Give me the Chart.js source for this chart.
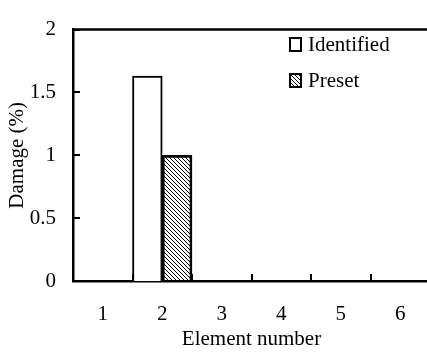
<!DOCTYPE html>
<html>
<head>
<meta charset="utf-8">
<script src="https://cdn.jsdelivr.net/npm/chart.js@4/dist/chart.umd.min.js"></script>
<style>
  html,body{margin:0;padding:0;background:#fff;overflow:hidden}
  body{width:427px;height:354px}
  #wrap{width:440px;height:354px}
</style>
</head>
<body>
<div id="wrap"><canvas id="c" width="440" height="354"></canvas></div>
<script>
// element numbers on the x axis
const elements = ['1','2','3','4','5','6']
// damage values (%) per element
const identified = [0, 1.63, 0, 0, 0, 0]
const preset = [0, 1.0, 0, 0, 0, 0]
const yTicks = [0, 0.5, 1, 1.5, 2]

const FONT = 'Liberation Serif'
const FS = 21

// diagonal hatch for the preset bars
function hatch(){
  const s = 4
  const p = document.createElement('canvas'); p.width = s; p.height = s
  const g = p.getContext('2d')
  g.strokeStyle = '#000'; g.lineWidth = 1
  g.beginPath()
  g.moveTo(-1,-1); g.lineTo(s+1,s+1)
  g.moveTo(-1,s-1); g.lineTo(1,s+1)
  g.moveTo(s-1,-1); g.lineTo(s+1,1)
  g.stroke()
  return document.getElementById('c').getContext('2d').createPattern(p,'repeat')
}

// inward tick marks + top frame line
const frame = {
  id:'frame',
  afterDatasetsDraw(chart){
    const {ctx, chartArea:a, scales:{x,y}} = chart
    ctx.save()
    ctx.strokeStyle = '#000'; ctx.lineWidth = 2.5
    ctx.beginPath(); ctx.moveTo(a.left, a.top); ctx.lineTo(a.right, a.top); ctx.stroke()
    ctx.lineWidth = 2
    ctx.beginPath()
    yTicks.forEach(v=>{ const py = Math.round(y.getPixelForValue(v)); ctx.moveTo(a.left, py); ctx.lineTo(a.left+7, py) })
    const half = (x.getPixelForValue(1) - x.getPixelForValue(0))/2
    for(let i=0;i<=elements.length;i++){
      const px = Math.round(x.getPixelForValue(i) - half)
      ctx.moveTo(px, a.bottom); ctx.lineTo(px, a.bottom-7)
    }
    ctx.stroke()
    ctx.restore()
  }
}

// legend drawn inside the plot, top right
const boxLegend = {
  id:'boxLegend',
  afterDraw(chart){
    const ctx = chart.ctx
    const rows = [44, 80]
    ctx.save()
    ctx.font = FS + 'px "' + FONT + '"'
    ctx.textBaseline = 'middle'
    chart.data.datasets.forEach((ds,i)=>{
      const cy = rows[i]
      ctx.fillStyle = ds.backgroundColor
      ctx.fillRect(290, cy-6, 11, 13)
      ctx.strokeStyle = '#000'; ctx.lineWidth = 2
      ctx.strokeRect(290, cy-6, 11, 13)
      ctx.fillStyle = '#000'
      ctx.fillText(ds.label, 308, cy+1)
    })
    ctx.restore()
  }
}

new Chart(document.getElementById('c'), {
  type:'bar',
  data:{
    labels: elements,
    datasets:[
      {label:'Identified', data: identified, backgroundColor:'#fff', borderColor:'#000', borderWidth:2},
      {label:'Preset', data: preset, backgroundColor: hatch(), borderColor:'#000', borderWidth:2}
    ]
  },
  options:{
    responsive:false,
    animation:false,
    layout:{padding:{top:16, right:10, left:0, bottom:0}},
    datasets:{bar:{categoryPercentage:1, barPercentage:1}},
    plugins:{legend:{display:false}, tooltip:{enabled:false}},
    scales:{
      x:{
        afterFit(s){ s.height = 73 },
        grid:{display:false, drawTicks:false},
        border:{display:true, color:'#000', width:2.5},
        ticks:{color:'#000', padding:21, font:{family:FONT, size:FS}},
        title:{display:true, text:'Element number', color:'#000', font:{family:FONT, size:FS}, padding:{top:0, bottom:2}}
      },
      y:{
        min:0, max:2,
        afterFit(s){ s.width = 73 },
        afterBuildTicks(s){ s.ticks = yTicks.map(v=>({value:v})) },
        grid:{display:false, drawTicks:false},
        border:{display:true, color:'#000', width:2.5},
        ticks:{color:'#000', padding:17, font:{family:FONT, size:FS}, callback:v=>String(v)},
        title:{display:true, text:'Damage (%)', color:'#000', font:{family:FONT, size:FS}, padding:{top:5, bottom:0}}
      }
    }
  },
  plugins:[frame, boxLegend]
})
</script>
</body>
</html>
